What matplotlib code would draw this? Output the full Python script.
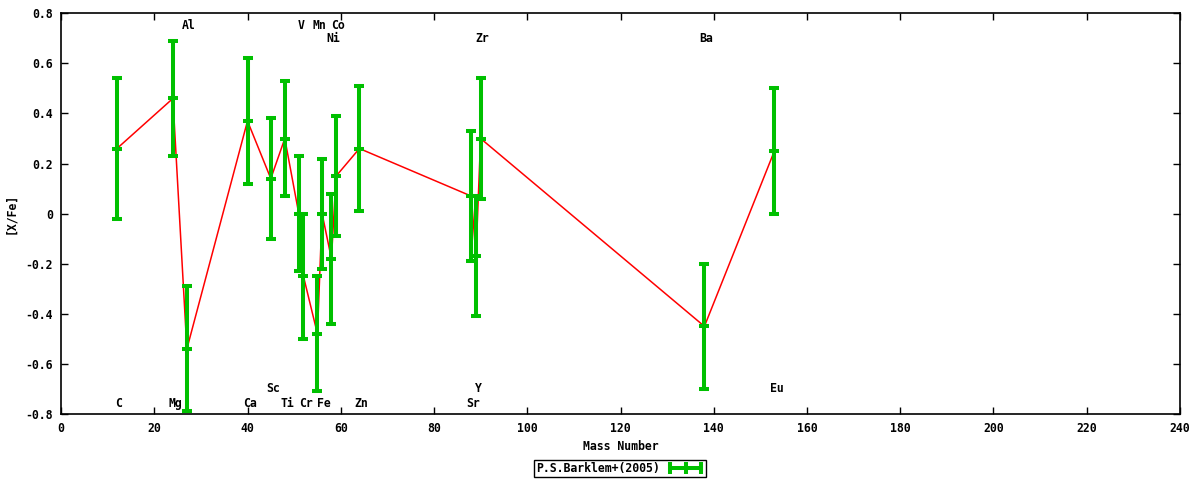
import matplotlib
matplotlib.use('Agg')
import matplotlib.pyplot as plt
from matplotlib.lines import Line2D
import numpy as np

# --- Data ---
elements = ['C', 'Mg', 'Al', 'Ca', 'Sc', 'Ti', 'V', 'Cr', 'Mn', 'Fe',
            'Ni', 'Co', 'Zn', 'Sr', 'Y', 'Zr', 'Ba', 'Eu']
mass = [12, 24, 27, 40, 45, 48, 51, 52, 55, 56, 58, 59, 64, 88, 89, 90, 138, 153]
x_fe = [0.26, 0.46, -0.54, 0.37, 0.14, 0.30, 0.00, -0.25, -0.48, 0.00,
        -0.18, 0.15, 0.26, 0.07, -0.17, 0.30, -0.45, 0.25]
err = [0.28, 0.23, 0.25, 0.25, 0.24, 0.23, 0.23, 0.25, 0.23, 0.22,
       0.26, 0.24, 0.25, 0.26, 0.24, 0.24, 0.25, 0.25]
# label row for each element: 0/1 on top, 2/3 at the bottom
label_row = [3, 3, 0, 3, 2, 3, 0, 3, 0, 3, 1, 0, 3, 3, 2, 1, 1, 2]
row_y = [0.75, 0.70, -0.70, -0.757]

legend_label = 'P.S.Barklem+(2005)'
green = '#00c000'
font = {'family': 'DejaVu Sans Mono', 'weight': 'bold', 'size': 8.3}

plt.rcParams['font.family'] = 'DejaVu Sans Mono'
plt.rcParams['font.weight'] = 'bold'
plt.rcParams['font.size'] = 8.3

fig = plt.figure(figsize=(12, 4.8), dpi=100)
ax = fig.add_axes([61 / 1200, 1 - 414 / 480, 1119 / 1200, 400.7 / 480])

# connecting line
ax.plot(mass, x_fe, color='red', lw=1.1, zorder=2)

# error bars
ax.errorbar(mass, x_fe, yerr=err, fmt='_', color=green, ecolor=green,
            elinewidth=2.9, capsize=3.3, capthick=2.9, markersize=6.6,
            markeredgewidth=2.9, zorder=3)

# element labels
for el, m, r in zip(elements, mass, label_row):
    ax.annotate(el, (m, row_y[r]), xytext=(1.5, 0), textcoords='offset points',
                ha='center', va='center', **font)

ax.set_xlim(0, 240)
ax.set_ylim(-0.8, 0.8)
ax.set_xticks(np.arange(0, 241, 20))
ax.set_yticks(np.arange(-0.8, 0.81, 0.2))
ax.set_yticklabels(['-0.8', '-0.6', '-0.4', '-0.2', '0', '0.2', '0.4', '0.6', '0.8'])
ax.tick_params(direction='in', length=5, width=1, top=True, right=True,
               pad=6, labelsize=8.3)
for s in ax.spines.values():
    s.set_linewidth(1.2)

ax.set_xlabel('Mass Number', fontdict=font, labelpad=3)
ax.set_ylabel('[X/Fe]', fontdict=font, labelpad=6)

handle = Line2D([], [], color=green, lw=2.9, marker='|', markersize=8,
                markeredgewidth=2.9)
leg = fig.legend([handle], [legend_label], loc='center', bbox_to_anchor=(0.517, 0.0236),
                 numpoints=3, markerfirst=False, handlelength=3.3, handletextpad=0.6,
                 borderpad=0.15, borderaxespad=0, fancybox=False, edgecolor='black',
                 framealpha=1, prop=font)
leg.get_frame().set_linewidth(1.0)

fig.savefig('out.png', dpi=100)
